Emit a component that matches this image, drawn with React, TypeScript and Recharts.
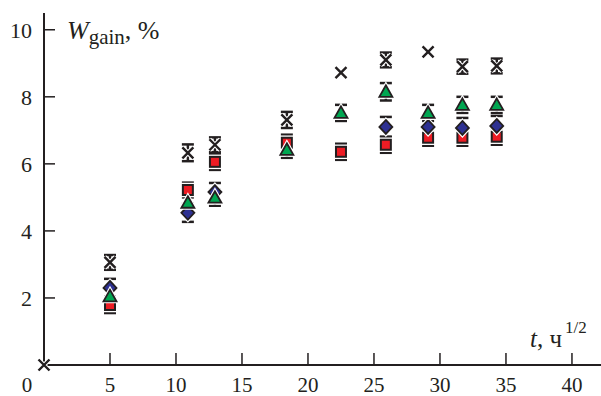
import { ScatterChart, Scatter, XAxis, YAxis, ErrorBar } from 'recharts'

// t^(1/2), h^(1/2) — measurement points shared by all series
const tPoints = [5, 10.9, 12.95, 18.4, 22.5, 25.9, 29.1, 31.7, 34.3]

const crossValues = [3.06, 6.33, 6.57, 7.31, 8.72, 9.1, 9.34, 8.9, 8.92]
const crossErrors = [0.22, 0.25, 0.22, 0.24, 0, 0.22, 0, 0.21, 0.22]

const triangleValues = [2.05, 4.84, 4.99, 6.42, 7.52, 8.15, 7.52, 7.76, 7.76]
const triangleErrors = [0.24, 0.24, 0.24, 0.24, 0.24, 0.26, 0.24, 0.24, 0.24]

const diamondValues: (number | null)[] = [2.3, 4.54, 5.16, null, null, 7.1, 7.1, 7.07, 7.13]
const diamondErrors = [0.27, 0.27, 0.27, 0, 0, 0.3, 0.27, 0.3, 0.3]

const squareValues = [1.79, 5.22, 6.06, 6.63, 6.36, 6.57, 6.78, 6.78, 6.81]
const squareErrors = [0.24, 0.22, 0.24, 0.24, 0.24, 0.24, 0.24, 0.24, 0.24]

const originT = [0]
const originW = [0]

const xTicks = [0, 5, 10, 15, 20, 25, 30, 35, 40]
const yTicks = [2, 4, 6, 8, 10]

const INK = '#231f20'
const FONT = 'Liberation Serif, serif'

const makeData = (vals: (number | null)[], errs: number[]) =>
  tPoints
    .map((t, i) => ({ t, w: vals[i], e: errs[i] }))
    .filter(d => d.w != null)

const crossData = [
  ...originT.map((t, i) => ({ t, w: originW[i], e: 0 })),
  ...makeData(crossValues, crossErrors),
]
const triangleData = makeData(triangleValues, triangleErrors)
const diamondData = makeData(diamondValues, diamondErrors)
const squareData = makeData(squareValues, squareErrors)

const Square = ({ cx, cy }: any) => (
  <g>
    <rect x={cx - 5.5} y={cy - 5.5} width={11} height={11} fill="none" stroke="#fff" strokeWidth={3.5} />
    <rect x={cx - 5} y={cy - 5} width={10} height={10} fill="#ed1c24" stroke={INK} strokeWidth={2} />
  </g>
)

const Diamond = ({ cx, cy }: any) => {
  const pts = `${cx},${cy - 7} ${cx + 6.5},${cy} ${cx},${cy + 7} ${cx - 6.5},${cy}`
  return (
    <g>
      <polygon points={pts} fill="none" stroke="#fff" strokeWidth={4} />
      <polygon points={pts} fill="#2e3192" stroke={INK} strokeWidth={1.8} />
    </g>
  )
}

const Triangle = ({ cx, cy }: any) => {
  const pts = `${cx},${cy - 6.5} ${cx + 6.5},${cy + 5} ${cx - 6.5},${cy + 5}`
  return (
    <g>
      <polygon points={pts} fill="none" stroke="#fff" strokeWidth={4} />
      <polygon points={pts} fill="#00a651" stroke={INK} strokeWidth={1.8} />
    </g>
  )
}

const Cross = ({ cx, cy }: any) => {
  const d = `M${cx - 5.5},${cy - 5.5}L${cx + 5.5},${cy + 5.5}M${cx + 5.5},${cy - 5.5}L${cx - 5.5},${cy + 5.5}`
  return (
    <g>
      <path d={d} stroke="#fff" strokeWidth={4.5} />
      <path d={d} stroke={INK} strokeWidth={2.4} />
    </g>
  )
}

const XTick = ({ x, y, payload }: any) => {
  const v = payload.value
  if (v === 0) {
    return (
      <text x={x - 17} y={y + 27} textAnchor="middle" fontFamily={FONT} fontSize={21} fill={INK}>
        0
      </text>
    )
  }
  return (
    <g>
      <line x1={x} y1={y} x2={x} y2={y - 12} stroke={INK} strokeWidth={1.5} />
      <text x={x} y={y + 27} textAnchor="middle" fontFamily={FONT} fontSize={21} fill={INK}>
        {v}
      </text>
    </g>
  )
}

const YTick = ({ x, y, payload }: any) => (
  <g>
    <line x1={x} y1={y} x2={x + 11} y2={y} stroke={INK} strokeWidth={1.5} />
    <text x={x - 12} y={y + 8} textAnchor="end" fontFamily={FONT} fontSize={22} fill={INK}>
      {payload.value}
    </text>
  </g>
)

const errProps = { dataKey: 'e', direction: 'y' as const, stroke: INK, strokeWidth: 2.5, width: 6 }

export default function App() {
  return (
    <div style={{ position: 'absolute', left: 0, top: 0, width: 601, height: 396, background: '#fff' }}>
      <ScatterChart width={601} height={396} margin={{ top: 13, right: 0, bottom: 0, left: 0 }}>
        <XAxis
          type="number"
          dataKey="t"
          domain={[0, 42.2]}
          ticks={xTicks}
          interval={0}
          height={31}
          tickSize={0}
          tickMargin={0}
          tickLine={false}
          axisLine={{ stroke: INK, strokeWidth: 2 }}
          tick={<XTick />}
        />
        <YAxis
          type="number"
          dataKey="w"
          domain={[0, 10.5]}
          ticks={yTicks}
          interval={0}
          width={44}
          tickSize={0}
          tickMargin={0}
          tickLine={false}
          axisLine={{ stroke: INK, strokeWidth: 2 }}
          tick={<YTick />}
        />
        <Scatter data={squareData} shape={<Square />} isAnimationActive={false}>
          <ErrorBar {...errProps} />
        </Scatter>
        <Scatter data={diamondData} shape={<Diamond />} isAnimationActive={false}>
          <ErrorBar {...errProps} />
        </Scatter>
        <Scatter data={triangleData} shape={<Triangle />} isAnimationActive={false}>
          <ErrorBar {...errProps} />
        </Scatter>
        <Scatter data={crossData} shape={<Cross />} isAnimationActive={false}>
          <ErrorBar {...errProps} />
        </Scatter>
      </ScatterChart>
      <svg
        width={601}
        height={396}
        style={{ position: 'absolute', left: 0, top: 0, pointerEvents: 'none' }}
        fontFamily={FONT}
        fill={INK}
      >
        <text x={67} y={39} fontSize={26}>
          <tspan fontStyle="italic">W</tspan>
          <tspan fontSize={21} dy={5}>gain</tspan>
          <tspan dy={-5}>, %</tspan>
        </text>
        <text x={530} y={347} fontSize={25}>
          <tspan fontStyle="italic">t</tspan>
          <tspan>, ч</tspan>
          <tspan x={565} fontSize={17} dy={-14}>1/2</tspan>
        </text>
      </svg>
    </div>
  )
}
